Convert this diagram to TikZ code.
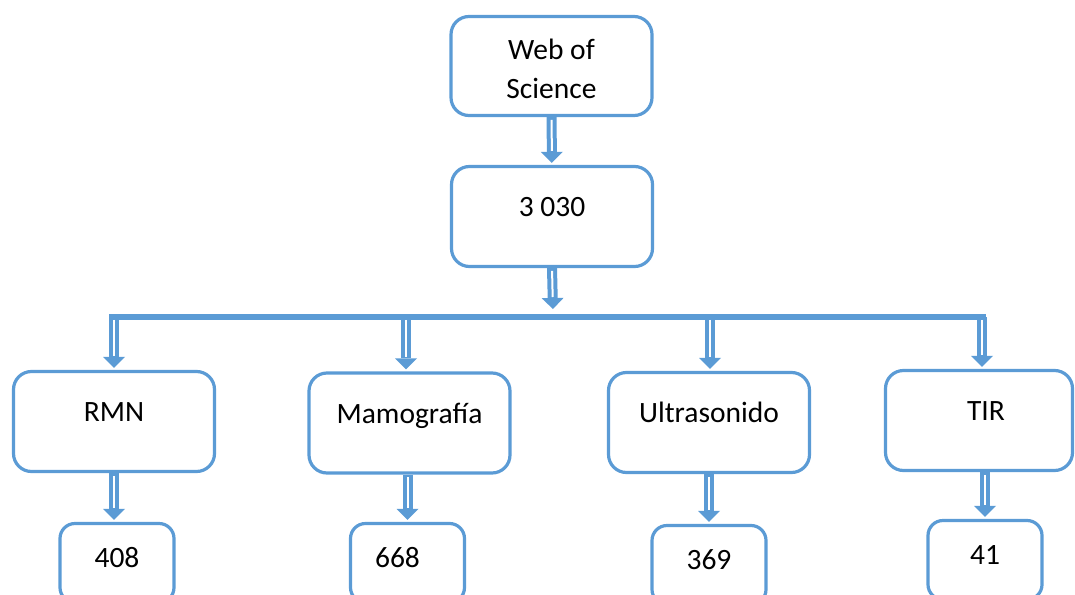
\documentclass[tikz,border=0pt]{standalone}
\usepackage{fontspec}
\setmainfont{Carlito}
\usetikzlibrary{arrows.meta}
\definecolor{bl}{HTML}{5B9BD5}
\begin{document}
\begin{tikzpicture}[x=1pt,y=-1pt,
  box/.style={draw=bl, line width=3.2pt, rounded corners=18pt, inner sep=0pt,
    font=\fontsize{29.5}{39}\selectfont, align=center},
  big/.style={box, minimum width=201pt, minimum height=100pt, text height=20pt, text depth=20pt},
  small/.style={box, rounded corners=15pt, minimum width=114pt, minimum height=79pt,
    text height=20pt, text depth=12pt},
  dbl/.style={draw=bl, line width=10pt, shorten >=2pt,
    -{Triangle[width=22pt,length=11pt,line width=0pt]},
    postaction={draw=white, line width=2pt, -, shorten >=14pt, shorten <=2.8pt}},
  bus/.style={draw=bl, line width=5.5pt}
]
\useasboundingbox (0,0) rectangle (1075,594);
\clip (0,0) rectangle (1075,594);

\node[box, minimum width=201pt, minimum height=99pt] (wos) at (551.5,66) {\rule{0pt}{27pt}Web of\\Science};
\node[big] (total) at (552,216.5) {3 030};

\node[big] (rmn) at (114,421.5) {RMN};
\node[big] (mamo) at (409.5,423) {Mamografía};
\node[big] (ultra) at (709,422.5) {Ultrasonido};
\node[big, minimum width=187pt] (tir) at (979,420.5) {\kern14pt TIR};

\node[small] (n408) at (117,563) {408};
\node[small] (n668) at (407.5,563) {668\kern20pt};
\node[small] (n369) at (709,565) {369};
\node[small] (n41) at (985,560) {41};

\coordinate (busL) at (109,317);
\coordinate (busR) at (986,317);
\coordinate (busin) at (553,311);
\coordinate (b1) at (114,317);
\coordinate (b2) at (406,317);
\coordinate (b3) at (710,317);
\coordinate (b4) at (982,317);

\draw[bus] (busL) -- (busR);

\draw[dbl] (wos) -- (total);
\draw[dbl] (total.south) -- (busin);
\draw[dbl] (b1) -- (b1 |- rmn.north);
\draw[dbl] (b2) -- (b2 |- mamo.north);
\draw[dbl] (b3) -- (b3 |- ultra.north);
\draw[dbl] (b4) -- (b4 |- tir.north);

\draw[dbl] (rmn.south) -- (rmn.south |- n408.north);
\draw[dbl] (n668.north |- mamo.south) -- (n668.north);
\draw[dbl] (ultra.south) -- (ultra.south |- n369.north);
\draw[dbl] (n41.north |- tir.south) -- (n41.north);
\end{tikzpicture}
\end{document}
